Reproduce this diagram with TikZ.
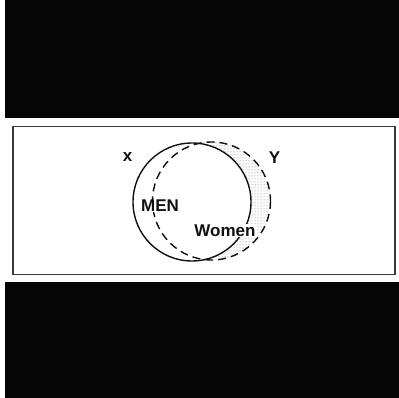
\documentclass[tikz,border=0pt]{standalone}
\usepackage{fontspec}
\setmainfont{Liberation Sans}
\usetikzlibrary{patterns}
\definecolor{bandc}{HTML}{050505}
\definecolor{framec}{HTML}{3A3A3A}
\definecolor{inkc}{HTML}{111111}
\tikzset{
  band/.style={fill=bandc},
  panel/.style={draw=framec, line width=1.8pt},
  mensolid/.style={draw=inkc, line width=1.4pt},
  womendash/.style={draw=inkc, line width=1.4pt, dash pattern=on 8pt off 5pt},
  stipple/.style={pattern=dots, pattern color=black!55},
  label/.style={inner sep=0.5pt, text=inkc, font=\bfseries\fontsize{17}{18}\selectfont},
}

\begin{document}
\begin{tikzpicture}[x=1pt,y=-1pt]
\useasboundingbox (0,0) rectangle (399,398);
\fill[white] (0,0) rectangle (399,398);
\fill[band] (5.000,0) rectangle (399,118.000);
\fill[band] (5.000,282.000) rectangle (399,398);
\draw[panel] (13.000,126.500) rectangle (395.000,274.500);
% crescent of women outside men
\begin{scope}
\clip (211.500,201.000) circle (59.000);
\fill[stipple, even odd rule] (100,100) rectangle (300,300) (192.000,202.000) circle (59.000);
\end{scope}
\draw[mensolid] (192.000,202.000) circle (59.000);
\draw[womendash] (211.500,201.000) circle (59.000);
\node[label] (x) at (127.500,157.000) {x};
\node[label] (y) at (274.500,157.500) {Y};
\node[label, fill=white] (men) at (160.000,206.000) {MEN};
\node[label, fill=white] (women) at (225.000,230.500) {Women};
\end{tikzpicture}
\end{document}
